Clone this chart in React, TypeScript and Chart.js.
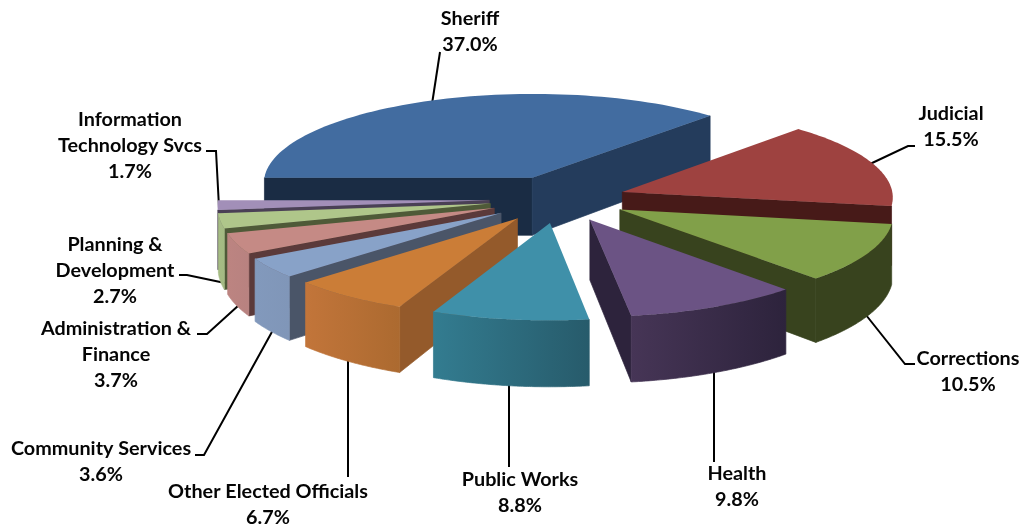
import React, { useEffect, useRef } from "react";
import { Chart, registerables } from "chart.js";

Chart.register(...registerables);

const categories = [
  "Sheriff", "Judicial", "Corrections", "Health", "Public Works",
  "Other Elected Officials", "Community Services", "Administration & Finance",
  "Planning & Development", "Information Technology Svcs",
];
const shares = [37.0, 15.5, 10.5, 9.8, 8.8, 6.7, 3.6, 3.7, 2.7, 1.7];
const shareLabels = ["37.0%", "15.5%", "10.5%", "9.8%", "8.8%", "6.7%", "3.6%", "3.7%", "2.7%", "1.7%"];
const sliceOffsets = [61, 57, 58, 59, 62, 62, 62, 61, 61, 61];

const topColors = ["#426CA0", "#9E4240", "#81A049", "#6B5384", "#3F90A9", "#CB7D37", "#88A2C8", "#C58A85", "#AFC68A", "#A28FB8"];
const cutColors = ["#1A2C44", "#471A18", "#38431E", "#2D233C", "#235261", "#945A2B", "#4A5568", "#5B3A3A", "#4F5A38", "#4A4055"];
const cutEndColors = ["#243C5C", "#471A18", "#38431E", "#2D233C", "#235261", "#945A2B", "#4A5568", "#5B3A3A", "#4F5A38", "#4A4055"];
const wallFrom = ["#1A2C44", "#471A18", "#38431E", "#463556", "#337C90", "#C2753A", "#8299BC", "#BC8481", "#A6BC84", "#9686AA"];
const wallTo = ["#1A2C44", "#471A18", "#38431E", "#2D233C", "#275B6B", "#AC6A30", "#8096B8", "#B88280", "#A4BA83", "#9686AA"];

const labelLines = [
  ["Sheriff", "37.0%"], ["Judicial", "15.5%"], ["Corrections", "10.5%"], ["Health", "9.8%"], ["Public Works", "8.8%"],
  ["Other Elected Officials", "6.7%"], ["Community Services", "3.6%"], ["Administration &", "Finance", "3.7%"],
  ["Planning &", "Development", "2.7%"], ["Information", "Technology Svcs", "1.7%"],
];
const labelCenters = [470, 951, 968, 737, 520, 268, 101, 116, 115, 130];
const labelFirstY = [19, 114, 359, 474, 480, 492, 449, 329, 245, 120];
const leaders = [
  [[440, 52], [432, 104]],
  [[915, 146], [908, 146], [870, 164]],
  [[866, 315], [905, 364], [915, 364]],
  [[714, 372], [714, 462]],
  [[509, 384], [509, 467]],
  [[348, 360], [348, 477]],
  [[273, 330], [204, 455], [195, 455]],
  [[239, 305], [207, 334], [197, 334]],
  [[179, 275], [187, 275], [225, 283]],
  [[206, 151], [216, 151], [219, 207]],
];

const CX = 560, CY = 199, RX = 271, RY = 90, PERSP = 0.05, DEPTH = 59;
const LINE_H = 26;

type P = { x: number; y: number; v: number };
const project = (u: number, v: number): P => {
  const w = 1 / (1 - PERSP * v);
  return { x: CX + RX * u * w, y: CY + RY * v * w, v };
};
const down = (p: P) => p.y + DEPTH * (1 + 0.1 * p.v);

const pie3d = {
  id: "pie3d",
  beforeDatasetDraw(chart: any) {
    const ctx: CanvasRenderingContext2D = chart.ctx;
    // leader lines go under the slices
    ctx.save();
    ctx.strokeStyle = "#000";
    ctx.lineWidth = 2;
    ctx.lineJoin = "miter";
    leaders.forEach((pts) => {
      ctx.beginPath();
      pts.forEach((p, i) => (i ? ctx.lineTo(p[0], p[1]) : ctx.moveTo(p[0], p[1])));
      ctx.stroke();
    });

    const arcs: any[] = chart.getDatasetMeta(0).data;
    const order = arcs
      .map((a, i) => ({ a, i, key: Math.sin((a.startAngle + a.endAngle) / 2) }))
      .sort((p, q) => p.key - q.key);

    ctx.lineWidth = 0.7;
    ctx.lineJoin = "round";
    order.forEach(({ a, i }) => {
      const mid = (a.startAngle + a.endAngle) / 2;
      const e = a.options.offset / a.outerRadius;
      const ax = e * Math.cos(mid), ay = e * Math.sin(mid);
      const apex = project(ax, ay);
      const rim: P[] = [];
      const n = 72;
      for (let k = 0; k <= n; k++) {
        const t = a.startAngle + ((a.endAngle - a.startAngle) * k) / n;
        rim.push(project(ax + Math.cos(t), ay + Math.sin(t)));
      }
      const inner = rim[n >> 1];
      // cut faces
      [rim[0], rim[n]].forEach((p, idx) => {
        const dx = p.x - apex.x, dy = p.y - apex.y;
        let nx = -dy, ny = dx;
        if (nx * (inner.x - apex.x) + ny * (inner.y - apex.y) > 0) { nx = -nx; ny = -ny; }
        if (ny <= 0) return;
        const col = idx === 0 ? cutColors[i] : cutEndColors[i];
        ctx.fillStyle = col;
        ctx.strokeStyle = col;
        ctx.beginPath();
        ctx.moveTo(apex.x, apex.y);
        ctx.lineTo(p.x, p.y);
        ctx.lineTo(p.x, down(p));
        ctx.lineTo(apex.x, down(apex));
        ctx.closePath();
        ctx.fill();
        ctx.stroke();
      });
      // outer wall: the run of the rim that faces the viewer
      const run = rim.filter((p, k) => (k < n ? rim[k + 1].x < p.x : rim[k - 1].x > p.x));
      if (run.length > 1 && run[0].x - run[run.length - 1].x > 4) {
        const g = ctx.createLinearGradient(run[run.length - 1].x, 0, run[0].x, 0);
        g.addColorStop(0, wallFrom[i]);
        g.addColorStop(1, wallTo[i]);
        ctx.fillStyle = g;
        ctx.strokeStyle = g;
        ctx.beginPath();
        run.forEach((p, k) => (k ? ctx.lineTo(p.x, p.y) : ctx.moveTo(p.x, p.y)));
        [...run].reverse().forEach((p) => ctx.lineTo(p.x, down(p)));
        ctx.closePath();
        ctx.fill();
        ctx.stroke();
      }
      // top face
      ctx.fillStyle = topColors[i];
      ctx.beginPath();
      ctx.moveTo(apex.x, apex.y);
      rim.forEach((p) => ctx.lineTo(p.x, p.y));
      ctx.closePath();
      ctx.fill();
    });

    // labels
    ctx.fillStyle = "#050505";
    ctx.font = "bold 19.8px Lato";
    ctx.textAlign = "center";
    ctx.textBaseline = "middle";
    labelLines.forEach((lines, i) => {
      lines.forEach((line, k) => ctx.fillText(line, labelCenters[i], labelFirstY[i] + k * LINE_H));
    });
    ctx.restore();
    return false;
  },
};

export default function App() {
  const ref = useRef<HTMLCanvasElement>(null);
  useEffect(() => {
    document.body.style.margin = "0";
    const chart = new Chart(ref.current!, {
      type: "pie",
      data: {
        labels: categories,
        datasets: [{ data: shares, backgroundColor: topColors, offset: sliceOffsets, borderWidth: 0 }],
      },
      options: {
        responsive: false,
        animation: false,
        rotation: -90,
        plugins: { legend: { display: false }, tooltip: { enabled: false } },
      },
      plugins: [pie3d],
    } as any);
    return () => chart.destroy();
  }, []);
  return <canvas ref={ref} width={1025} height={529} style={{ display: "block" }} aria-label={shareLabels.join(" ")} />;
}
